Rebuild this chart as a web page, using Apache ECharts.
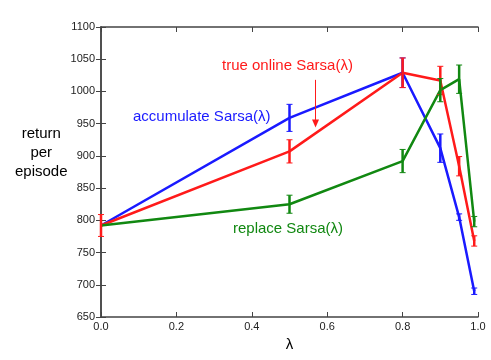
<!DOCTYPE html>
<html>
<head>
<meta charset="utf-8">
<script src="https://cdn.jsdelivr.net/npm/echarts@6/dist/echarts.min.js"></script>
<style>
  html, body { margin: 0; padding: 0; background: #fff; }
  #chart { width: 491px; height: 360px; }
</style>
</head>
<body>
<div id="chart"></div>
<script>
// lambda values
var lambdas = [0, 0.5, 0.8, 0.9, 0.95, 0.99];

// mean return per episode, and half-width of error bars
var accumulate = [792, 959, 1029, 912, 805, 690];
var accumulateErr = [0, 21, 23, 22, 5, 5];
var trueOnline = [792, 907, 1029, 1017, 884, 768];
var trueOnlineErr = [17, 18, 23, 22, 15, 8];
var replace = [792, 825, 892, 1002, 1019, 798];
var replaceErr = [0, 14, 18, 18, 22, 8];

// annotation arrow for the true online label: [x, yFrom, yTo]
var arrow = [[0.569, 1018, 944]];

var BLUE = '#1a1aff', RED = '#ff1a1a', GREEN = '#118811';
var FONT = '"Liberation Sans", Arial, sans-serif';

function pairs(ys) {
    var out = [];
    for (var i = 0; i < lambdas.length; i++) out.push([lambdas[i], ys[i]]);
    return out;
}
function errData(ys, es) {
    var out = [];
    for (var i = 0; i < lambdas.length; i++) {
        if (es[i] > 0) out.push([lambdas[i], ys[i] - es[i], ys[i] + es[i]]);
    }
    return out;
}
function lineSeries(name, ys, color) {
    return {
        name: name, type: 'line', data: pairs(ys), symbol: 'none',
        lineStyle: {color: color, width: 2.5}, animation: false, z: 3
    };
}
function errSeries(name, ys, es, color) {
    return {
        name: name + ' err', type: 'custom', data: errData(ys, es), z: 4, animation: false,
        renderItem: function (params, api) {
            var lo = api.coord([api.value(0), api.value(1)]);
            var hi = api.coord([api.value(0), api.value(2)]);
            var c = 3;
            return {
                type: 'group',
                children: [
                    {type: 'line', shape: {x1: lo[0], y1: lo[1], x2: hi[0], y2: hi[1]}, style: {stroke: color, lineWidth: 2.5}},
                    {type: 'line', shape: {x1: lo[0] - c, y1: lo[1], x2: lo[0] + c, y2: lo[1]}, style: {stroke: color, lineWidth: 1}},
                    {type: 'line', shape: {x1: hi[0] - c, y1: hi[1], x2: hi[0] + c, y2: hi[1]}, style: {stroke: color, lineWidth: 1}}
                ]
            };
        }
    };
}

var axisLine = {show: true, lineStyle: {color: '#444', width: 1.5}};
var tick = {show: true, inside: true, length: 5, lineStyle: {color: '#444'}};

var myChart = echarts.init(document.getElementById('chart'));
var option = {
    backgroundColor: '#fff',
    grid: {left: 101, right: 13, top: 27, bottom: 43},
    xAxis: [{
        type: 'value', min: 0, max: 1, interval: 0.2,
        axisLine: axisLine, axisTick: tick, splitLine: {show: false},
        axisLabel: {color: '#222', fontSize: 11, fontFamily: FONT, margin: 4,
            formatter: function (v) { return v.toFixed(1); }},
        name: 'λ', nameLocation: 'middle', nameGap: 20,
        nameTextStyle: {color: '#000', fontSize: 15, fontFamily: FONT}
    }, {
        type: 'value', position: 'top', min: 0, max: 1, interval: 0.2,
        axisLine: axisLine, axisTick: tick, axisLabel: {show: false}, splitLine: {show: false}
    }],
    yAxis: [{
        type: 'value', min: 650, max: 1100, interval: 50,
        axisLine: axisLine, axisTick: tick, splitLine: {show: false},
        axisLabel: {color: '#222', fontSize: 11, fontFamily: FONT, margin: 6,
            formatter: function (v) { return String(v); }}
    }, {
        type: 'value', position: 'right', min: 650, max: 1100, interval: 50,
        axisLine: axisLine, axisTick: tick, axisLabel: {show: false}, splitLine: {show: false}
    }],
    graphic: [
        {type: 'text', left: 15, top: 124, style: {text: 'return\nper\nepisode', fill: '#000',
            font: '15px ' + FONT, textAlign: 'center', lineHeight: 19}, x: 27},
        {type: 'text', left: 133, top: 109, style: {text: 'accumulate Sarsa(λ)', fill: BLUE, font: '15px ' + FONT}},
        {type: 'text', left: 222, top: 58, style: {text: 'true online Sarsa(λ)', fill: RED, font: '15px ' + FONT}},
        {type: 'text', left: 233, top: 221, style: {text: 'replace Sarsa(λ)', fill: GREEN, font: '15px ' + FONT}}
    ],
    series: [
        lineSeries('accumulate', accumulate, BLUE),
        lineSeries('true online', trueOnline, RED),
        lineSeries('replace', replace, GREEN),
        errSeries('accumulate', accumulate, accumulateErr, BLUE),
        errSeries('true online', trueOnline, trueOnlineErr, RED),
        errSeries('replace', replace, replaceErr, GREEN),
        {
            type: 'custom', data: arrow, silent: true, animation: false, z: 5,
            renderItem: function (params, api) {
                var a = api.coord([api.value(0), api.value(1)]);
                var b = api.coord([api.value(0), api.value(2)]);
                return {
                    type: 'group',
                    children: [
                        {type: 'line', shape: {x1: a[0], y1: a[1], x2: b[0], y2: b[1] - 6}, style: {stroke: RED, lineWidth: 1}},
                        {type: 'polygon', shape: {points: [[b[0] - 3.5, b[1] - 8], [b[0] + 3.5, b[1] - 8], [b[0], b[1]]]},
                            style: {fill: RED}}
                    ]
                };
            }
        }
    ]
};
myChart.setOption(option, true);
</script>
</body>
</html>
